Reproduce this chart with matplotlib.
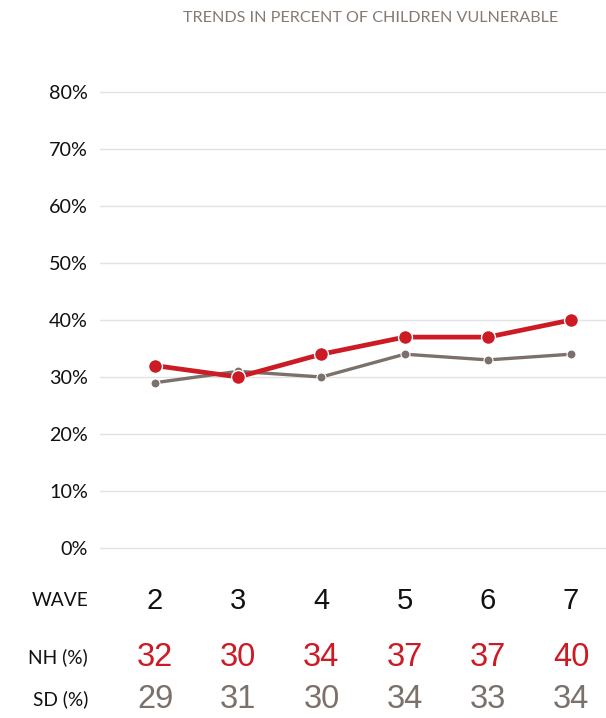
import matplotlib
matplotlib.use("Agg")
import matplotlib.pyplot as plt
from matplotlib.transforms import blended_transform_factory

waves = [2, 3, 4, 5, 6, 7]
nh = [32, 30, 34, 37, 37, 40]
sd = [29, 31, 30, 34, 33, 34]
yticks = [0, 10, 20, 30, 40, 50, 60, 70, 80]
title = "TRENDS IN PERCENT OF CHILDREN VULNERABLE"

RED = "#cc1b24"
GRAY = "#7b716a"

W, H = 606, 718
fig = plt.figure(figsize=(W / 100, H / 100), dpi=100)

# axes pixel bounds
left, right = 100, 606
top, bottom = 86.3, 553.7
ax = fig.add_axes([left / W, 1 - bottom / H, (right - left) / W, (bottom - top) / H])
ax.set_xlim(1.339, 7.42)
ax.set_ylim(-1, 81)
for s in ax.spines.values():
    s.set_visible(False)
ax.set_yticks(yticks)
ax.set_yticklabels([f"{v}%" for v in yticks], fontsize=14.2, family="Lato", color="#111111")
ax.tick_params(axis="y", length=0, pad=8.6)
ax.set_xticks([])
ax.grid(axis="y", color="#e3e3e3", linewidth=1)
ax.set_axisbelow(True)

ax.plot(waves, sd, color=GRAY, linewidth=2.4, marker="o", markersize=6.5,
        markeredgecolor="white", markeredgewidth=0.8, zorder=3)
ax.plot(waves, nh, color=RED, linewidth=3.4, marker="o", markersize=10,
        markeredgecolor="white", markeredgewidth=1.0, zorder=4)

tr = blended_transform_factory(ax.transData, fig.transFigure)

def ypix(p):
    return 1 - p / H

fig.text(371 / W, ypix(18.5), title, ha="center", va="center", fontsize=11.6,
         family="Lato", color="#857a73")

row_label_x = 88 / W
rows = [("WAVE", waves, "#111111", 601, 21), ("NH (%)", nh, RED, 657, 23.5),
        ("SD (%)", sd, GRAY, 699, 23.5)]
for label, vals, col, yp, fs in rows:
    fig.text(row_label_x, ypix(yp), label, ha="right", va="center", fontsize=13.8,
             family="Lato", color="#111111")
    for w, v in zip(waves, vals):
        ax.text(w, ypix(yp), str(v), transform=tr, ha="center", va="center",
                fontsize=fs, family="Liberation Sans", color=col, clip_on=False)

fig.savefig("out.png", dpi=100)
